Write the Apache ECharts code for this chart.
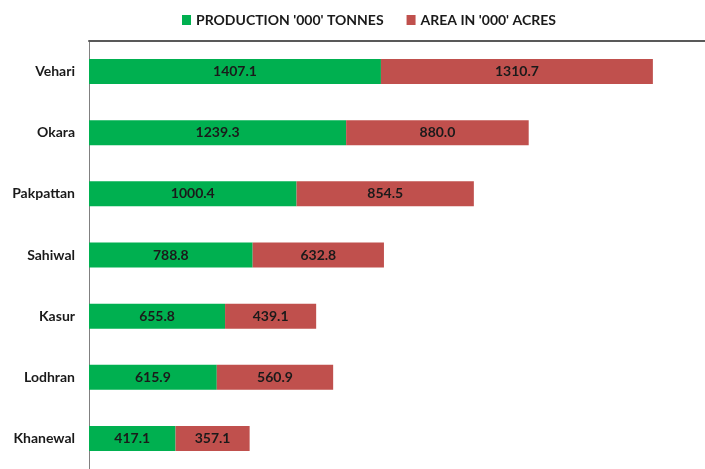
<!DOCTYPE html>
<html><head><meta charset="utf-8">
<script src="https://cdn.jsdelivr.net/npm/echarts@6/dist/echarts.min.js"></script>
<style>html,body{margin:0;padding:0;background:#fff}#c{width:705px;height:469px}</style>
</head><body><div id="c"></div>
<script>
const categories = ['Vehari','Okara','Pakpattan','Sahiwal','Kasur','Lodhran','Khanewal'];
const production = [1407.1, 1239.3, 1000.4, 788.8, 655.8, 615.9, 417.1];
const area = [1310.7, 880.0, 854.5, 632.8, 439.1, 560.9, 357.1];
const seriesNames = ["PRODUCTION '000' TONNES", "AREA IN '000' ACRES"];
const FONT = 'Lato, "Open Sans", sans-serif';
const chart = echarts.init(document.getElementById('c'), null, {renderer:'canvas'});
const lbl = {show:true, position:'inside', color:'#1a1a1a', fontWeight:'bold', fontSize:14, fontFamily:FONT,
  formatter: p => p.value.toFixed(1)};
chart.setOption({
  animation:false,
  legend:{top:8, left:177, itemWidth:9, itemHeight:10, itemGap:23, icon:'rect',
    textStyle:{fontFamily:FONT, fontWeight:'bold', fontSize:14, color:'#1a1a1a'}},
  grid:{left:89, top:41, height:430, width:616, containLabel:false},
  xAxis:{type:'value', position:'top', min:0, max:2969, axisLine:{show:true, lineStyle:{color:'#595959', width:2}},
    axisTick:{show:false}, axisLabel:{show:false}, splitLine:{show:false}},
  yAxis:{type:'category', data:categories, inverse:true,
    axisLine:{show:true, lineStyle:{color:'#808080', width:1}}, axisTick:{show:false},
    axisLabel:{fontFamily:FONT, fontWeight:'bold', fontSize:14, color:'#1a1a1a', margin:14}},
  series:[
    {name:seriesNames[0], type:'bar', stack:'s', data:production, barWidth:25, itemStyle:{color:'#00B050'}, label:lbl},
    {name:seriesNames[1], type:'bar', stack:'s', data:area, barWidth:25, itemStyle:{color:'#C0504D'}, label:lbl}
  ]
});
</script></body></html>
